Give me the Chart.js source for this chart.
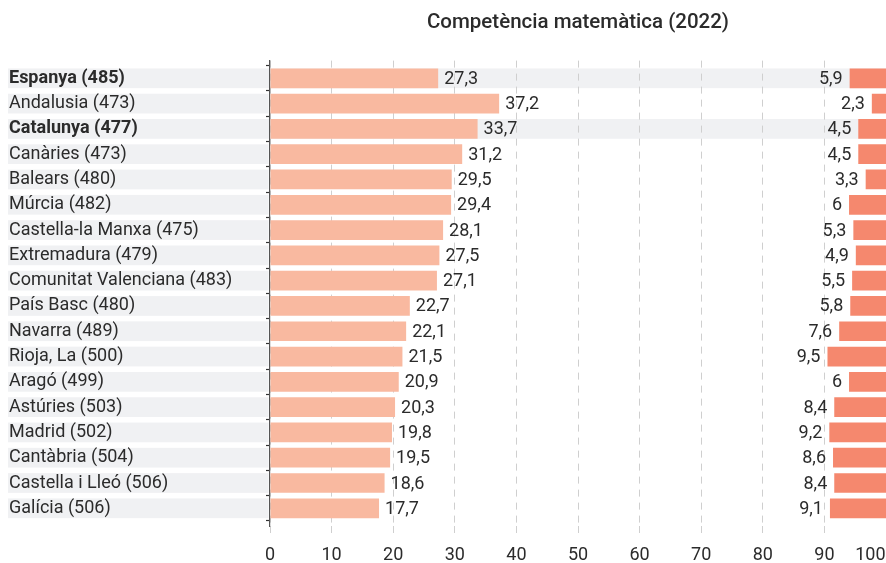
<!DOCTYPE html>
<html>
<head>
<meta charset="utf-8">
<script src="https://cdn.jsdelivr.net/npm/chart.js@4/dist/chart.umd.min.js"></script>
<style>
  html, body { margin: 0; padding: 0; background: #ffffff; overflow: hidden; }
  #wrap { width: 886px; height: 563px; position: relative; }
</style>
</head>
<body>
<div id="wrap"><canvas id="c"></canvas></div>
<script>
const chartTitle = 'Competència matemàtica (2022)';
const regions = ['Espanya (485)', 'Andalusia (473)', 'Catalunya (477)', 'Canàries (473)', 'Balears (480)', 'Múrcia (482)', 'Castella-la Manxa (475)', 'Extremadura (479)', 'Comunitat Valenciana (483)', 'País Basc (480)', 'Navarra (489)', 'Rioja, La (500)', 'Aragó (499)', 'Astúries (503)', 'Madrid (502)', 'Cantàbria (504)', 'Castella i Lleó (506)', 'Galícia (506)'];
const lowValues = [27.3, 37.2, 33.7, 31.2, 29.5, 29.4, 28.1, 27.5, 27.1, 22.7, 22.1, 21.5, 20.9, 20.3, 19.8, 19.5, 18.6, 17.7];
const highValues = [5.9, 2.3, 4.5, 4.5, 3.3, 6, 5.3, 4.9, 5.5, 5.8, 7.6, 9.5, 6, 8.4, 9.2, 8.6, 8.4, 9.1];
const highlighted = ['Espanya (485)', 'Catalunya (477)'];
const xTicks = [0, 10, 20, 30, 40, 50, 60, 70, 80, 90, 100];

const FONT = 'Roboto, "Noto Sans", sans-serif';
const TEXT = '#2b2b2b';
const fmt = v => String(v).replace('.', ',');

const rowBands = {
  id: 'rowBands',
  beforeDraw(chart) {
    const ctx = chart.ctx;
    const y = chart.scales.y;
    const meta = chart.getDatasetMeta(0);
    const area = chart.chartArea;
    ctx.save();
    ctx.fillStyle = '#f0f1f3';
    regions.forEach((r, i) => {
      const el = meta.data[i];
      if (!el) return;
      const h = el.height;
      const cy = y.getPixelForValue(i);
      const right = highlighted.includes(r) ? area.right : area.left - 1.5;
      ctx.fillRect(8, cy - h / 2, right - 8, h);
    });
    ctx.restore();
  }
};

const valueLabels = {
  id: 'valueLabels',
  afterDatasetsDraw(chart) {
    const ctx = chart.ctx;
    ctx.save();
    ctx.font = '18px ' + FONT;
    ctx.fillStyle = TEXT;
    ctx.textBaseline = 'middle';
    const m0 = chart.getDatasetMeta(0);
    m0.data.forEach((el, i) => {
      ctx.textAlign = 'left';
      ctx.fillText(fmt(lowValues[i]), Math.max(el.x, el.base) + 6, el.y + 1);
    });
    const m1 = chart.getDatasetMeta(1);
    m1.data.forEach((el, i) => {
      ctx.textAlign = 'right';
      ctx.fillText(fmt(highValues[i]), Math.min(el.x, el.base) - 7, el.y + 1);
    });
    ctx.restore();
  }
};

new Chart(document.getElementById('c'), {
  type: 'bar',
  data: {
    labels: regions,
    datasets: [
      {
        data: lowValues,
        backgroundColor: '#f9b9a0',
        grouped: false,
        barPercentage: 0.78,
        categoryPercentage: 1
      },
      {
        data: highValues.map(v => [100 - v, 100]),
        backgroundColor: '#f5886e',
        grouped: false,
        barPercentage: 0.78,
        categoryPercentage: 1
      }
    ]
  },
  options: {
    indexAxis: 'y',
    responsive: true,
    maintainAspectRatio: false,
    animation: false,
    layout: { padding: { left: 9, right: 0, top: 0, bottom: 0 } },
    plugins: {
      legend: { display: false },
      tooltip: { enabled: false },
      title: {
        display: true,
        text: chartTitle,
        fullSize: false,
        color: TEXT,
        font: { family: FONT, size: 20.5, weight: '500' },
        padding: { top: 11, bottom: 25 }
      }
    },
    scales: {
      x: {
        type: 'linear',
        min: 0,
        max: 100,
        afterBuildTicks: s => { s.ticks = xTicks.map(v => ({ value: v })); },
        afterFit: s => { s.paddingRight = 0; s.paddingLeft = 0; s.height = 37; },
        border: { display: false, dash: [7, 6] },
        grid: {
          color: '#cfcfcf',
          lineWidth: 1,
          drawTicks: true,
          tickLength: 9,
          tickColor: '#cfcfcf',
          tickBorderDash: [7, 6]
        },
        ticks: {
          color: TEXT,
          padding: 10,
          maxRotation: 0,
          autoSkip: false,
          font: { family: FONT, size: 18 },
          callback: v => (v === 100 ? '100       ' : String(v))
        }
      },
      y: {
        type: 'category',
        offset: true,
        afterBuildTicks: s => { s._startValue -= 0.2; s._valueRange += 0.4; },
        afterFit: s => { s.width = 261; },
        border: { display: true, color: '#555', width: 1.2 },
        grid: {
          display: true,
          offset: true,
          drawOnChartArea: false,
          drawTicks: true,
          tickLength: 4,
          tickColor: '#333',
          tickWidth: 1.2
        },
        ticks: {
          crossAlign: 'far',
          color: TEXT,
          padding: 6,
          autoSkip: false,
          font: ctx => ({
            family: FONT,
            size: 18,
            weight: highlighted.includes(regions[ctx.index]) ? 'bold' : 'normal'
          })
        }
      }
    }
  },
  plugins: [rowBands, valueLabels]
});
</script>
</body>
</html>
